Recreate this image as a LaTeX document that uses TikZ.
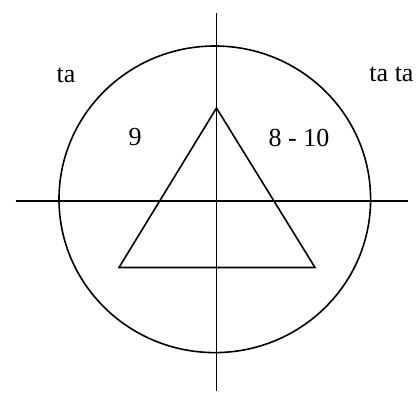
\documentclass[tikz,border=0pt]{standalone}
\usepackage{fontspec}
\setmainfont{Liberation Serif}
\begin{document}
\begin{tikzpicture}[x=1pt,y=-1pt,
  ln/.style={line width=1.6pt,black},
  lbl/.style={font=\fontsize{26}{30}\selectfont,inner sep=0pt}]
\useasboundingbox (0,0) rectangle (417,393);
\fill[white] (0,0) rectangle (417,393);
\coordinate (vt) at (216.5,13);
\coordinate (vb) at (216.5,391);
\coordinate (hl) at (15.5,201);
\coordinate (hr) at (408,201);
\coordinate (apex) at (216.5,108);
\coordinate (bl) at (119,267.5);
\coordinate (br) at (315,267.5);
\draw[ln] (214.8,199.3) ellipse [x radius=155.8, y radius=153.3];
\draw[ln] (vt) -- (vb);
\draw[ln] (hl) -- (hr);
\draw[ln,line join=miter] (apex) -- (bl) -- (br) -- cycle;
\node[lbl] (ta) at (66,75) {ta};
\node[lbl] (tata) at (391.5,74) {ta ta};
\node[lbl] (nine) at (135,137.5) {9};
\node[lbl] (range) at (299,137.5) {8 - 10};
\end{tikzpicture}
\end{document}
